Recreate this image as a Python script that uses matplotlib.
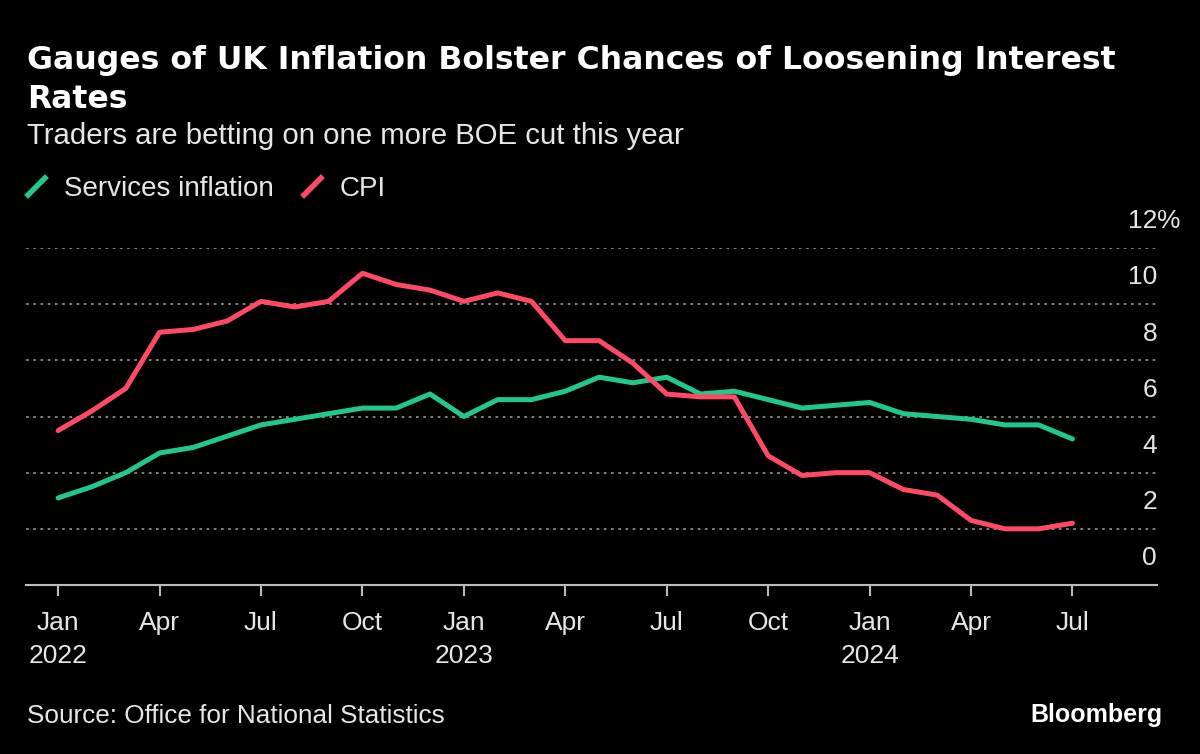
import matplotlib
matplotlib.use("Agg")
import matplotlib.pyplot as plt
from matplotlib.lines import Line2D
from matplotlib.path import Path

# monthly values, Jan 2022 .. Jul 2024 (%)
services = [3.1, 3.5, 4.0, 4.7, 4.9, 5.3, 5.7, 5.9, 6.1, 6.3, 6.3, 6.8,
            6.0, 6.6, 6.6, 6.9, 7.4, 7.2, 7.4, 6.8, 6.9, 6.6, 6.3, 6.4,
            6.5, 6.1, 6.0, 5.9, 5.7, 5.7, 5.2]
cpi = [5.5, 6.2, 7.0, 9.0, 9.1, 9.4, 10.1, 9.9, 10.1, 11.1, 10.7, 10.5,
       10.1, 10.4, 10.1, 8.7, 8.7, 7.9, 6.8, 6.7, 6.7, 4.6, 3.9, 4.0,
       4.0, 3.4, 3.2, 2.3, 2.0, 2.0, 2.2]
months = list(range(len(cpi)))
tick_pos = [0, 3, 6, 9, 12, 15, 18, 21, 24, 27, 30]
tick_labels = ["Jan\n2022", "Apr", "Jul", "Oct", "Jan\n2023", "Apr", "Jul",
               "Oct", "Jan\n2024", "Apr", "Jul"]
y_ticks = [0, 2, 4, 6, 8, 10, 12]

GREEN = "#22c78b"
RED = "#ff4a66"
TXT = "#e6e6e6"
plt.rcParams['font.family'] = ['Liberation Sans', 'DejaVu Sans']

fig = plt.figure(figsize=(12, 7.54), dpi=100, facecolor="black")
W, H = 1200, 754
ax = fig.add_axes([26 / W, 1 - 585 / H, 1131 / W, 337 / H])
ax.set_facecolor("black")

for v in y_ticks[1:]:
    ax.axhline(v, color="#8a8a8a", lw=1.3, ls=(0, (1.5, 2.5)), zorder=1)

ax.plot(months, services, color=GREEN, lw=3.6, solid_joinstyle="round",
        solid_capstyle="round", zorder=3)
ax.plot(months, cpi, color=RED, lw=3.6, solid_joinstyle="round",
        solid_capstyle="round", zorder=3)

ax.set_xlim(-0.95, 32.5)
ax.set_ylim(0, 12)
for s in ["top", "right", "left"]:
    ax.spines[s].set_visible(False)
ax.spines["bottom"].set_color("#bdbdbd")
ax.spines["bottom"].set_linewidth(1.5)
ax.set_yticks([])
ax.set_xticks(tick_pos)
ax.set_xticklabels(tick_labels, fontsize=19, color=TXT, linespacing=1.45)
ax.tick_params(axis="x", direction="out", length=8, width=1.5,
               color="#bdbdbd", pad=11)

for v in y_ticks:
    ax.text(1.0, v + 0.95, str(v), transform=ax.get_yaxis_transform(),
            ha="right", va="center", fontsize=19, color=TXT)
ax.text(1.0, y_ticks[-1] + 0.95, "%", transform=ax.get_yaxis_transform(),
        ha="left", va="center", fontsize=19, color=TXT)

fig.text(27 / W, 1 - 69 / H, "Gauges of UK Inflation Bolster Chances of Loosening Interest",
         fontsize=22.7, fontweight="bold", color="white", va="baseline",
         family="DejaVu Sans")
fig.text(27 / W, 1 - 108 / H, "Rates",
         fontsize=22.7, fontweight="bold", color="white", va="baseline",
         family="DejaVu Sans")
fig.text(27 / W, 1 - 144 / H, "Traders are betting on one more BOE cut this year",
         fontsize=21.2, color=TXT, va="baseline")

slash = Path([(-1, -1), (1, 1)], [Path.MOVETO, Path.LINETO])
handles = [Line2D([], [], color=GREEN, marker=slash, ls="none", markersize=15,
                  markeredgewidth=4),
           Line2D([], [], color=RED, marker=slash, ls="none", markersize=15,
                  markeredgewidth=4)]
leg = fig.legend(handles, ["Services inflation", "CPI"], loc="upper left",
                 bbox_to_anchor=(22 / W, 1 - 176 / H), ncol=2, frameon=False,
                 fontsize=20, handlelength=1.0, handletextpad=0.5,
                 columnspacing=0.9, borderpad=0, borderaxespad=0)
for t in leg.get_texts():
    t.set_color(TXT)

fig.text(27 / W, 1 - 723 / H, "Source: Office for National Statistics",
         fontsize=18.8, color=TXT, va="baseline")
fig.text(1163 / W, 1 - 722 / H, "Bloomberg", fontsize=18, fontweight="bold",
         color="white", ha="right", va="baseline")

fig.savefig("out.png", dpi=100, facecolor="black")
